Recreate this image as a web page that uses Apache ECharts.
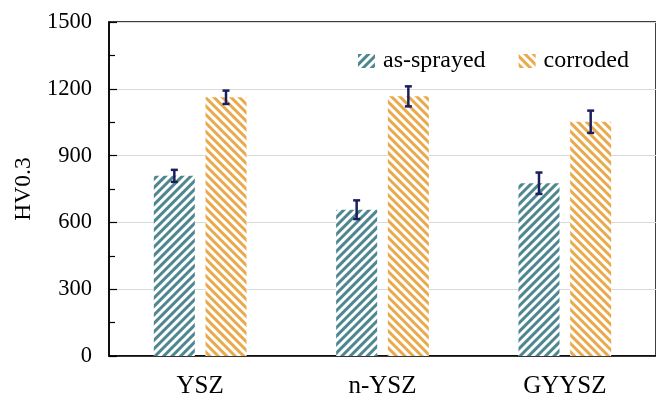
<!DOCTYPE html>
<html>
<head>
<meta charset="utf-8">
<script src="https://cdn.jsdelivr.net/npm/echarts@6/dist/echarts.min.js"></script>
<style>html,body{margin:0;padding:0;background:#fff;}#c{width:656px;height:399px;}</style>
</head>
<body>
<div id="c"></div>
<script>
const categories = ['YSZ', 'n-YSZ', 'GYYSZ'];
const seriesNames = ['as-sprayed', 'corroded'];
const asSprayed = [809, 657, 776];
const asSprayedErr = [27, 42, 48];
const corroded = [1162, 1166, 1052];
const corrodedErr = [30, 45, 50];
const yTicks = [0, 300, 600, 900, 1200, 1500];

const TEAL = '#4e8790';
const ORANGE = '#e9aa4e';
const NAVY = '#1b1f5e';
const FONT = '"Liberation Serif", "Times New Roman", serif';
const BAR_FRAC = 0.225;
const BAR_GAP = 0.26;

const chart = echarts.init(document.getElementById('c'), null, {renderer: 'canvas'});

function errSeries(vals, errs, sign) {
  return {
    type: 'custom',
    z: 5,
    silent: true,
    data: categories.map((c, i) => [i, vals[i], errs[i]]),
    renderItem: function (params, api) {
      const x = api.value(0), v = api.value(1), e = api.value(2);
      const cw = api.size([1, 0])[0];
      const bw = cw * BAR_FRAC;
      const off = sign * (bw + bw * BAR_GAP) / 2;
      const t = api.coord([x, v + e]);
      const b = api.coord([x, v - e]);
      const cx = t[0] + off;
      const h = 3.5;
      const st = {stroke: NAVY, lineWidth: 2.5};
      return {
        type: 'group',
        children: [
          {type: 'line', shape: {x1: cx, y1: t[1], x2: cx, y2: b[1]}, style: st},
          {type: 'line', shape: {x1: cx - h, y1: t[1], x2: cx + h, y2: t[1]}, style: st},
          {type: 'line', shape: {x1: cx - h, y1: b[1], x2: cx + h, y2: b[1]}, style: st}
        ]
      };
    }
  };
}

const option = {
  backgroundColor: '#fff',
  animation: false,
  grid: {
    left: 109, top: 22, bottom: 41, width: 560,
    show: true, borderColor: '#000', borderWidth: 1.5, backgroundColor: 'transparent'
  },
  legend: {
    data: seriesNames,
    left: 358, top: 49, padding: 0,
    itemWidth: 17, itemHeight: 14, itemGap: 33,
    icon: 'rect',
    textStyle: {fontFamily: FONT, fontSize: 24, color: '#000', padding: [0, 0, 0, 3]}
  },
  xAxis: {
    type: 'category',
    data: categories,
    axisLine: {lineStyle: {color: '#000', width: 1.5}},
    axisTick: {inside: true, length: 9, lineStyle: {color: '#000', width: 1.2}},
    axisLabel: {fontFamily: FONT, fontSize: 25, color: '#000', margin: 18},
    splitLine: {show: false}
  },
  yAxis: {
    type: 'value',
    min: yTicks[0], max: yTicks[yTicks.length - 1], interval: yTicks[1] - yTicks[0],
    name: 'HV0.3',
    nameLocation: 'middle',
    nameGap: 65,
    nameTextStyle: {fontFamily: FONT, fontSize: 23.5, color: '#000'},
    axisLine: {show: true, lineStyle: {color: '#000', width: 1.5}},
    axisTick: {show: true, inside: true, length: 8, lineStyle: {color: '#000', width: 1.2}},
    minorTick: {show: true, splitNumber: 2, length: 6, lineStyle: {color: '#000', width: 1.2}},
    axisLabel: {fontFamily: FONT, fontSize: 22.5, color: '#000', margin: 17, formatter: v => String(v)},
    splitLine: {show: true, lineStyle: {color: '#d9d9d9', width: 1.2}}
  },
  series: [
    {
      name: seriesNames[0],
      type: 'bar',
      data: asSprayed,
      barWidth: (BAR_FRAC * 100) + '%',
      barGap: (BAR_GAP * 100) + '%',
      itemStyle: {
        color: '#fff',
        decal: {symbol: 'rect', symbolSize: 1, dashArrayX: [1, 0], dashArrayY: [3, 3], rotation: -Math.PI / 4, color: TEAL}
      }
    },
    {
      name: seriesNames[1],
      type: 'bar',
      data: corroded,
      barWidth: (BAR_FRAC * 100) + '%',
      itemStyle: {
        color: '#fff',
        decal: {symbol: 'rect', symbolSize: 1, dashArrayX: [1, 0], dashArrayY: [3, 3], rotation: Math.PI / 4, color: ORANGE}
      }
    },
    errSeries(asSprayed, asSprayedErr, -1),
    errSeries(corroded, corrodedErr, 1)
  ]
};
chart.setOption(option);
</script>
</body>
</html>
